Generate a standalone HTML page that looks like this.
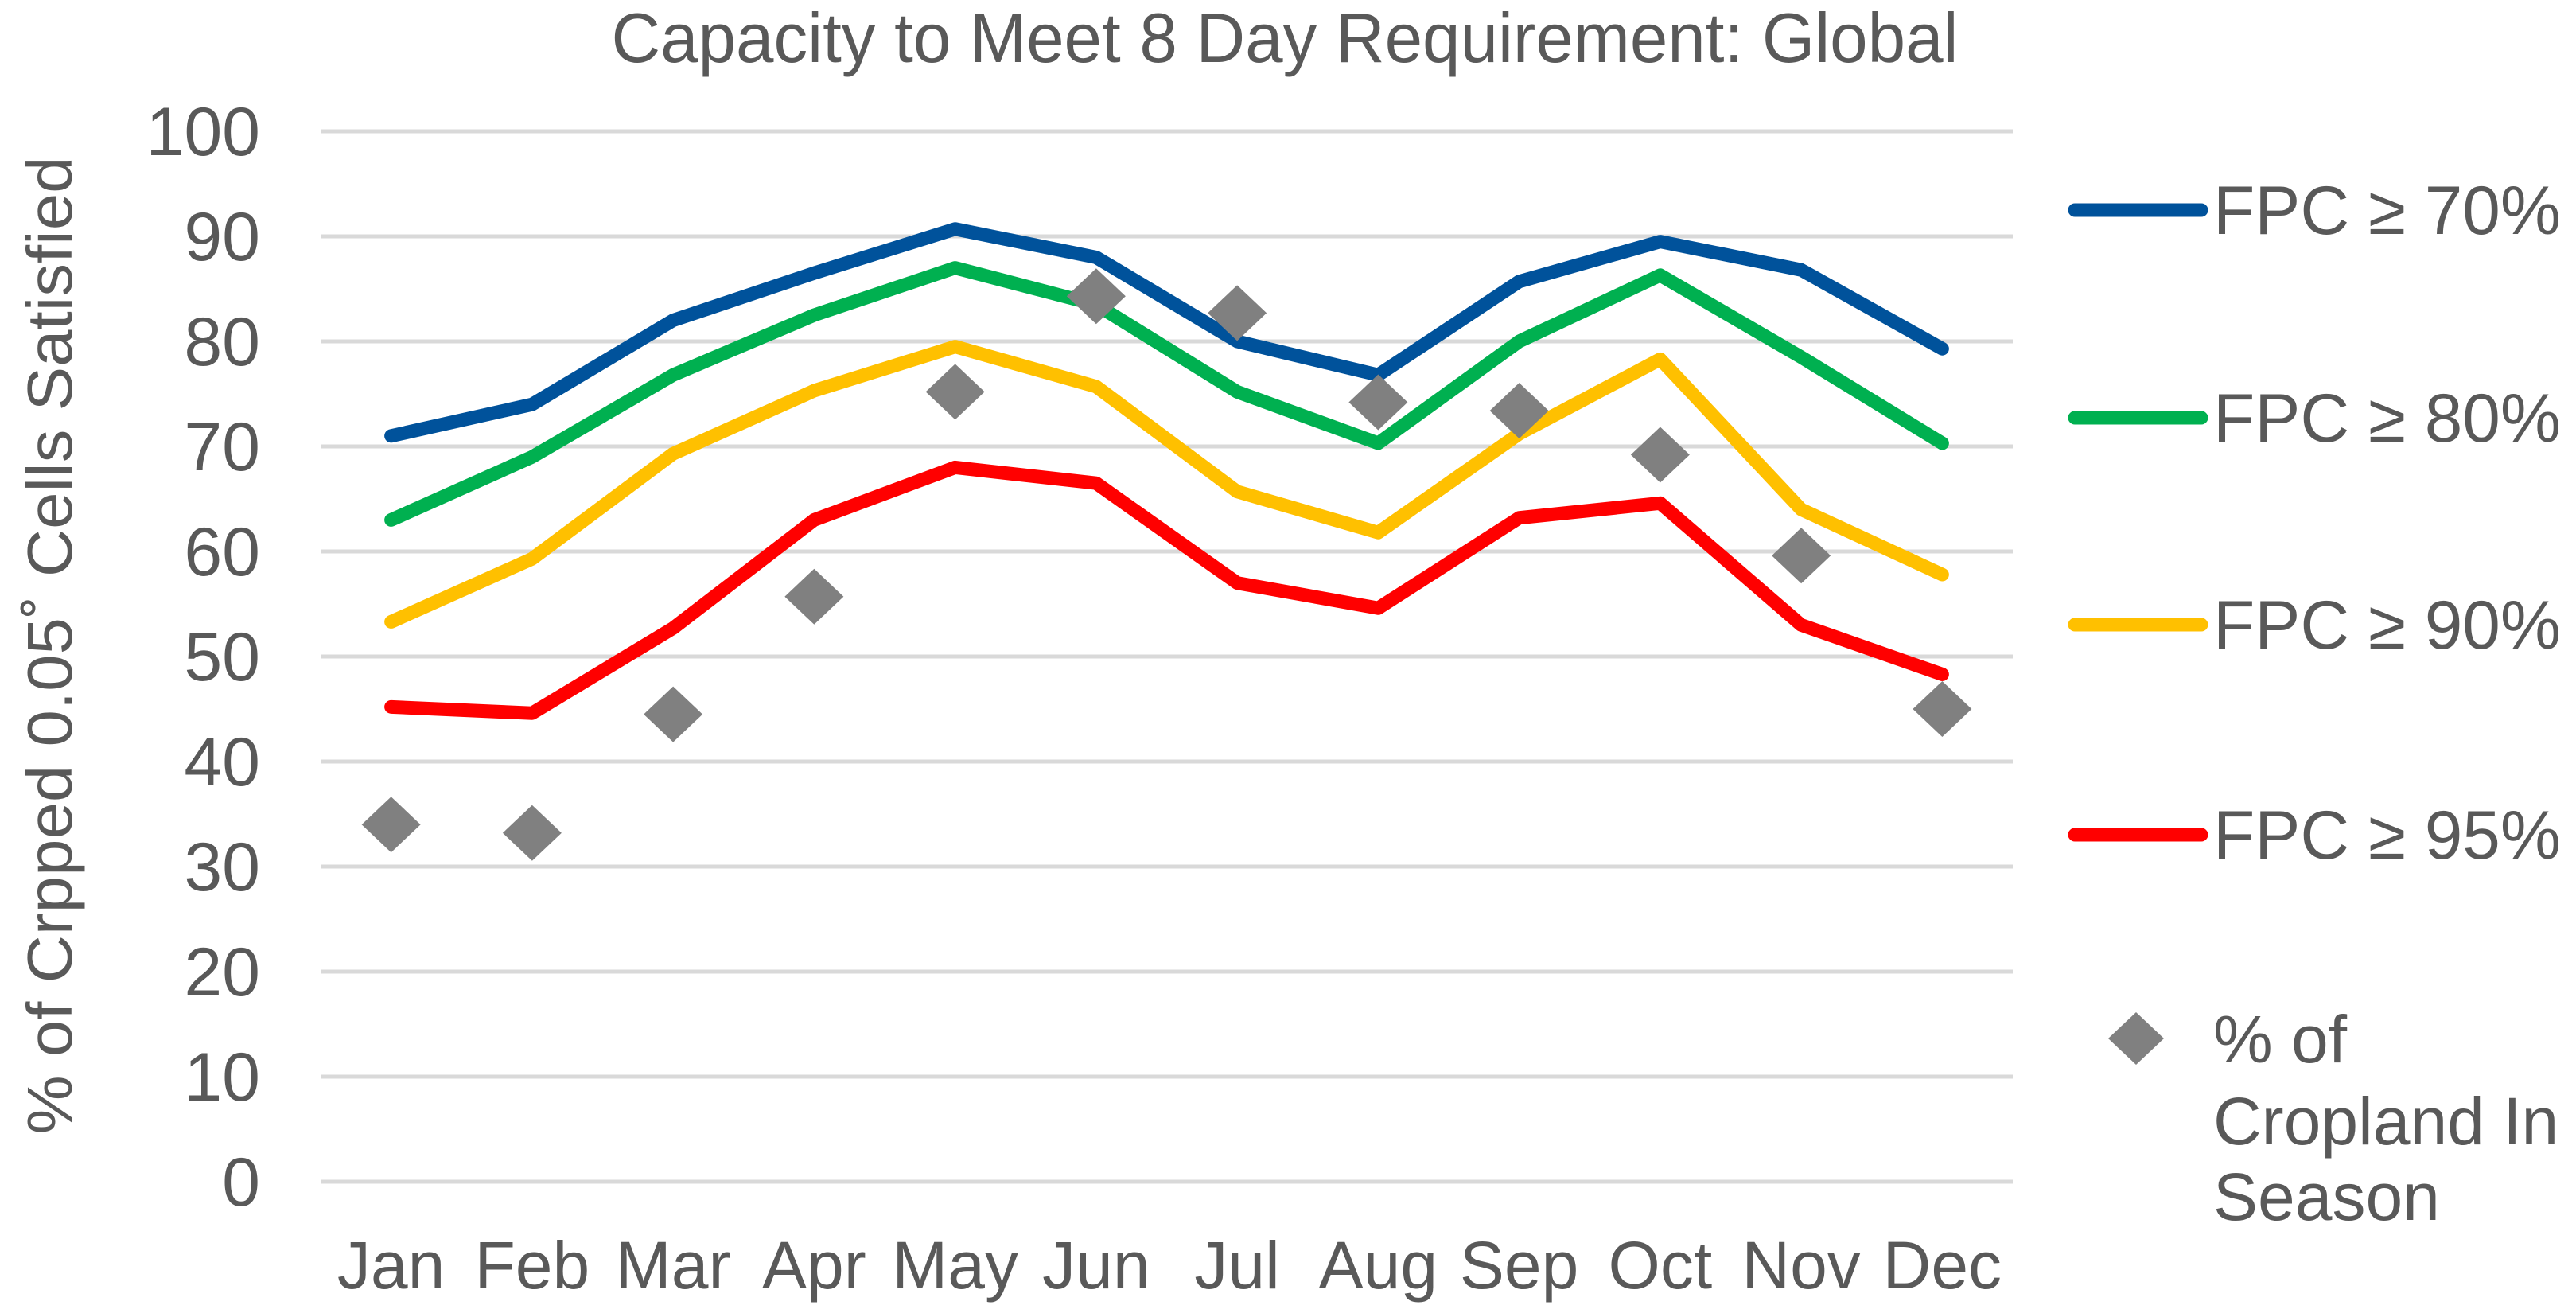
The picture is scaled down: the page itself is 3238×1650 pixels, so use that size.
<!DOCTYPE html>
<html><head><meta charset="utf-8"><style>
html,body{margin:0;padding:0;background:#fff;}
svg{display:block;font-family:"Liberation Sans",Arial,sans-serif;}
</style></head><body>
<svg id="chart" width="3238" height="1650" viewBox="0 0 3238 1650">
<text x="1615" y="78" text-anchor="middle" font-size="88" fill="#595959" textLength="1693" lengthAdjust="spacingAndGlyphs">Capacity to Meet 8 Day Requirement: Global</text>
<text transform="translate(90,811) rotate(-90)" text-anchor="middle" font-size="80" fill="#595959" textLength="1229" lengthAdjust="spacingAndGlyphs">% of Crpped 0.05˚ Cells Satisfied</text>
<g id="grid"></g><g id="yticks"></g><g id="xticks"></g><g id="series"></g><g id="points"></g><g id="legend"></g>
</svg>
<script>
const months=["Jan","Feb","Mar","Apr","May","Jun","Jul","Aug","Sep","Oct","Nov","Dec"];
const yTicks=[0,10,20,30,40,50,60,70,80,90,100];
const fpc70=[71,74,82,86.5,90.7,88,80,76.8,85.7,89.5,86.8,79.3];
const fpc80=[63,69,76.8,82.5,87,83.5,75.2,70.3,80,86.3,78.5,70.3];
const fpc90=[53.3,59.3,69.3,75.3,79.5,75.7,65.7,61.8,71.2,78.3,64,57.8];
const fpc95=[45.2,44.6,52.7,63,68,66.5,57,54.6,63.2,64.6,53,48.3];
const cropland=[34,33.2,44.5,55.7,75.2,84.3,82.7,74.2,73.4,69.2,59.6,45];
const seriesNames=["FPC ≥ 70%","FPC ≥ 80%","FPC ≥ 90%","FPC ≥ 95%"];
const seriesColors=["#00529b","#00b050","#ffc000","#ff0000"];
const NS="http://www.w3.org/2000/svg";
const X0=403,X1=2530,Y0=1485,Y1=165;
const band=(X1-X0)/months.length;
function xs(i){return X0+band*(i+0.5);}
function ys(v){return Y0-(v/100)*(Y0-Y1);}
function mk(tag,attrs,parent){const e=document.createElementNS(NS,tag);for(const k in attrs)e.setAttribute(k,attrs[k]);document.getElementById(parent).appendChild(e);return e;}
yTicks.forEach(t=>{
 const l=mk('line',{x1:X0,x2:X1,y1:ys(t),y2:ys(t),stroke:'#d9d9d9','stroke-width':5},'grid');
 
 
 const tx=mk('text',{x:327,y:ys(t)+30,'text-anchor':'end','font-size':86,fill:'#595959'},'yticks');
 tx.textContent=t;
 
 
});
months.forEach((m,i)=>{
 const tx=mk('text',{x:xs(i),y:1619,'text-anchor':'middle','font-size':84,fill:'#595959'},'xticks');
 tx.textContent=m;
 
 
});
[fpc70,fpc80,fpc90,fpc95].forEach((arr,s)=>{
 const p=mk('polyline',{points:arr.map((v,i)=>xs(i)+','+ys(v)).join(' '),fill:'none',stroke:seriesColors[s],'stroke-width':17,'stroke-linejoin':'round','stroke-linecap':'round'},'series');
 
 
});
cropland.forEach((v,i)=>{
 const x=xs(i),y=ys(v);
 const d=mk('polygon',{points:`${x},${y-35} ${x+37},${y} ${x},${y+35} ${x-37},${y}`,fill:'#808080'},'points');
 
 
});
const legY=[264,525,785,1049];
seriesNames.forEach((n,s)=>{
 const l=mk('line',{x1:2608,x2:2767,y1:legY[s],y2:legY[s],stroke:seriesColors[s],'stroke-width':17,'stroke-linecap':'round'},'legend');
 
 
 const t=mk('text',{x:2782,y:legY[s]+30,'font-size':86,fill:'#595959',textLength:437,lengthAdjust:'spacingAndGlyphs'},'legend');
 t.textContent=n;
 
 
});
const ld=mk('polygon',{points:'2685,1272 2720,1305 2685,1338 2650,1305',fill:'#808080'},'legend');


[["% of",1335],["Cropland In",1438],["Season",1533]].forEach((r,i)=>{
 const t=mk('text',{x:2782,y:r[1],'font-size':84,fill:'#595959'},'legend');
 t.textContent=r[0];
 
 
});
</script>
</body></html>
